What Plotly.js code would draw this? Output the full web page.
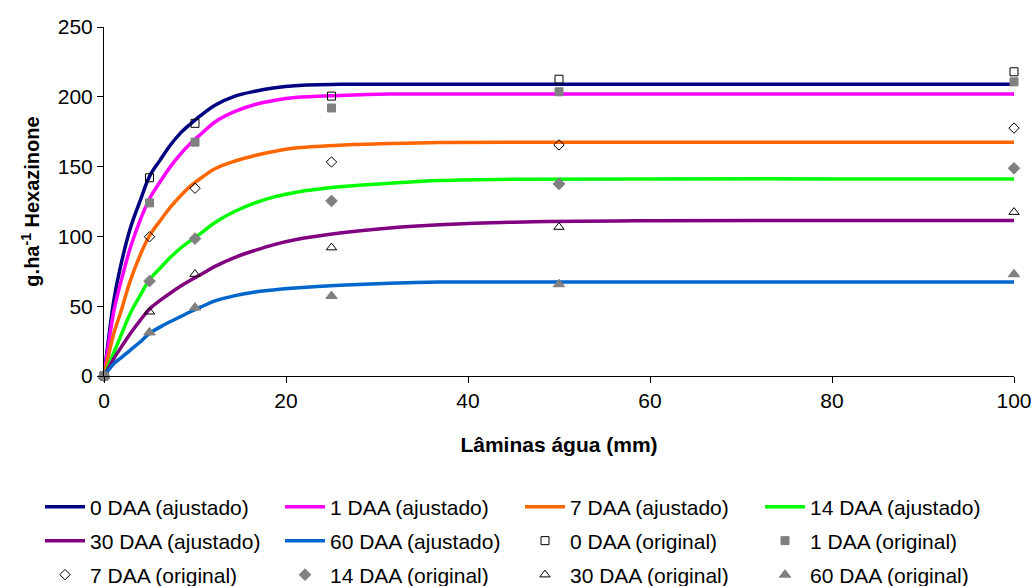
<!DOCTYPE html>
<html>
<head>
<meta charset="utf-8">
<script src="https://cdn.plot.ly/plotly-3.0.1.min.js"></script>
<style>html,body{margin:0;padding:0;background:#fff;}#chart{width:1035px;height:586px;}</style>
</head>
<body>
<div id="chart"></div>
<script>
// Fitted curves
const curveX = [0, 1.1, 1.8, 2.9, 4, 5, 6.2, 7.3, 8.4, 9.5, 10.6, 12.2, 14.4, 16.6, 18.8, 21, 25.9, 31.4, 36.9, 45, 60, 80, 100];
const fit0  = [0, 55, 78, 106, 126, 143, 155, 165.5, 174, 180.5, 186.5, 194, 200.5, 204, 206.5, 208, 209, 209, 209, 209, 209, 209, 209];
const fit1  = [0, 47, 66, 92, 112, 127, 139.5, 150, 159, 166.5, 173, 182, 189.5, 194.5, 197.5, 199.5, 201, 202, 202, 202, 202, 202, 202];
const fit7  = [0, 31, 45, 68.5, 87, 100.5, 111.5, 121, 129, 136, 141.5, 148.5, 154, 158, 161, 163.3, 165.3, 166.5, 167.2, 167.4, 167.4, 167.4, 167.4];
const fit14 = [0, 17, 28, 45, 58, 69, 77.5, 85, 91.5, 97, 102, 110, 118, 124, 128.5, 131.5, 135.5, 138, 140, 141, 141.2, 141.2, 141.2];
const fit30 = [0, 12.6, 19.8, 30.5, 40, 48, 54.3, 59.5, 64.3, 68.6, 72.5, 78.5, 85, 90, 94.3, 97.6, 102.4, 106, 108.3, 110.2, 111.2, 111.4, 111.4];
const fit60 = [0, 9, 12.6, 18.6, 24.5, 30.5, 35.2, 39, 42.5, 46, 49.3, 53.8, 57.6, 60.2, 61.8, 63, 65, 66.5, 67.3, 67.4, 67.4, 67.4, 67.4];

// Original measurements
const obsX = [0, 5, 10, 25, 50, 100];
const obs0  = [0, 142, 181, 200.5, 212.6, 217.9];
const obs1  = [0, 124, 167.5, 192, 203.6, 210.7];
const obs7  = [0, 99.7, 134.5, 153.3, 165.5, 177.6];
const obs14 = [0, 68, 98.4, 125.4, 137.6, 148.8];
const obs30 = [0, 46, 73, 92, 106.7, 117.4];
const obs60 = [0, 31.2, 49, 57.3, 65.7, 72.9];

const fitNames = ['0 DAA (ajustado)', '1 DAA (ajustado)', '7 DAA (ajustado)', '14 DAA (ajustado)', '30 DAA (ajustado)', '60 DAA (ajustado)'];
const obsNames = ['0 DAA (original)', '1 DAA (original)', '7 DAA (original)', '14 DAA (original)', '30 DAA (original)', '60 DAA (original)'];
const xTicks = [0, 20, 40, 60, 80, 100];
const yTicks = [0, 50, 100, 150, 200, 250];

const fitColors = ['#000080', '#FF00FF', '#FF6600', '#00FF00', '#800080', '#0066CC'];
const obsSymbols = ['square-open', 'square', 'diamond-open', 'diamond', 'triangle-up-open', 'triangle-up'];
const obsColors = ['#000000', '#808080', '#000000', '#808080', '#000000', '#808080'];
const obsSizes = [8, 8, 8, 9, 9, 10];

const fits = [fit0, fit1, fit7, fit14, fit30, fit60];
const obss = [obs0, obs1, obs7, obs14, obs30, obs60];

const FONT = 'Liberation Sans, Arial, sans-serif';
const traces = [];
let idx = 0;
function legendKey(i) { return i === 0 ? 'legend' : 'legend' + (i + 1); }

fits.forEach((ys, i) => {
  traces.push({
    type: 'scatter', mode: 'lines', x: curveX, y: ys, name: fitNames[i],
    line: {color: fitColors[i], width: 3.5, shape: 'spline', smoothing: 1},
    legend: legendKey(idx), cliponaxis: false
  });
  idx++;
});
obss.forEach((ys, i) => {
  traces.push({
    type: 'scatter', mode: 'markers', x: obsX, y: ys, name: obsNames[i],
    marker: {symbol: obsSymbols[i], color: obsColors[i], size: obsSizes[i], line: {width: 1, color: obsColors[i]}},
    legend: legendKey(idx), cliponaxis: false
  });
  idx++;
});

const W = 1035, H = 586;
const mL = 104, mR = 21, mT = 27, mB = 210;
const pw = W - mL - mR, ph = H - mT - mB;
const colPx = [45, 285, 525, 765];
const rowPx = [507, 541, 575];

const layout = {
  width: W, height: H,
  margin: {l: mL, r: mR, t: mT, b: mB, autoexpand: false},
  paper_bgcolor: '#ffffff', plot_bgcolor: '#ffffff',
  font: {family: FONT, size: 21, color: '#000000'},
  showlegend: true,
  xaxis: {
    range: [0, 100], tickvals: xTicks, ticktext: xTicks.map(String),
    showgrid: false, zeroline: false, showline: true, linecolor: '#000', linewidth: 1,
    ticks: 'outside', ticklen: 6, tickcolor: '#000', tickfont: {size: 21},
    title: {text: 'Lâminas água (mm)', font: {size: 21, weight: 'bold'}, standoff: 26}
  },
  yaxis: {
    range: [0, 250], tickvals: yTicks, ticktext: yTicks.map(String),
    showgrid: false, zeroline: false, showline: true, linecolor: '#000', linewidth: 1,
    ticks: 'outside', ticklen: 6, tickcolor: '#000', tickfont: {size: 21},
    title: {text: 'g.ha<sup>-1</sup> Hexazinone', font: {size: 20, weight: 'bold'}, standoff: 12}
  }
};
for (let i = 0; i < 12; i++) {
  const r = Math.floor(i / 4), c = i % 4;
  layout[legendKey(i)] = {
    x: (colPx[c] - 5 - mL) / pw, xanchor: 'left',
    y: (mT + ph - rowPx[r]) / ph, yanchor: 'middle',
    orientation: 'h', bgcolor: 'rgba(0,0,0,0)', borderwidth: 0,
    font: {family: FONT, size: 21, color: '#000'}, itemwidth: 40
  };
}

Plotly.newPlot('chart', traces, layout, {displayModeBar: false, staticPlot: true});
</script>
</body>
</html>
